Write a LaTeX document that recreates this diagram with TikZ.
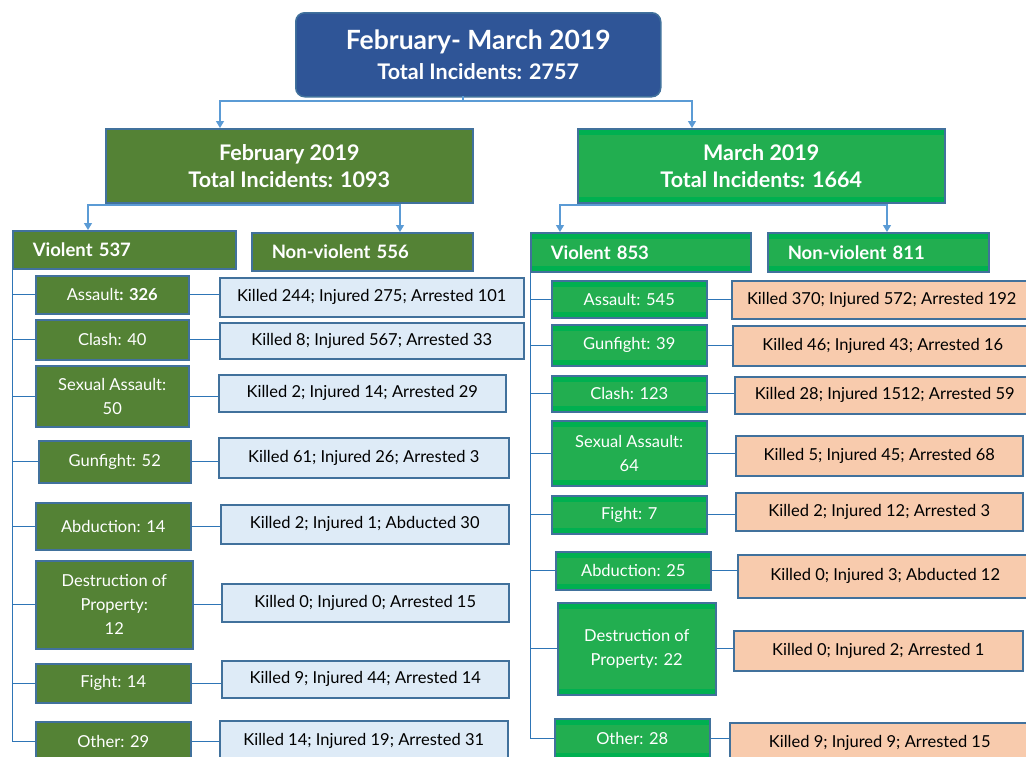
\documentclass[tikz,border=0pt]{standalone}
\usepackage{fontspec}
\setmainfont{Lato}
\usetikzlibrary{arrows.meta}

\definecolor{titleblue}{HTML}{2F5597}
\definecolor{frameblue}{HTML}{41719C}
\definecolor{linkblue}{HTML}{5B9BD5}
\definecolor{treeblue}{HTML}{2E75B6}
\definecolor{olive}{HTML}{548235}
\definecolor{brightgreen}{HTML}{00B050}
\definecolor{bandgreen}{HTML}{22AE50}
\definecolor{paleblue}{HTML}{DEEBF7}
\definecolor{peach}{HTML}{F8CBAD}

\tikzset{
  box/.style={draw=frameblue, line width=1.5pt, anchor=north west, inner sep=0pt,
    align=center, font=\fontsize{16.5}{24}\selectfont},
  monthA/.style={box, fill=olive, text=white, font=\bfseries\fontsize{21.5}{27}\selectfont},
  monthB/.style={monthA, fill=brightgreen, band},
  catA/.style={box, fill=olive, text=white, font=\bfseries\fontsize{18.5}{20}\selectfont},
  catB/.style={catA, fill=brightgreen, band},
  kindA/.style={box, fill=olive, text=white},
  kindB/.style={box, fill=brightgreen, text=white, band},
  infoA/.style={box, fill=paleblue},
  infoB/.style={box, fill=peach},
  band/.style={path picture={\fill[bandgreen]
    ([yshift=-6pt]path picture bounding box.north west) rectangle
    ([yshift=6pt]path picture bounding box.south east);}},
  link/.style={draw=linkblue, line width=1.2pt, -{Triangle[width=8pt,length=7pt]}},
  tree/.style={draw=treeblue, line width=1pt},
}

\begin{document}
\begin{tikzpicture}[x=1pt, y=-1pt]
\path[use as bounding box] (0,0) rectangle (1026,756);
\clip (0,0) rectangle (1026,756);

% totals
\node[box, fill=titleblue, text=white, rounded corners=9pt, minimum width=365, minimum height=84,
  font=\bfseries\fontsize{21.5}{30}\selectfont] (top) at (295,12)
  {{\fontsize{26.5}{30}\selectfont February- March 2019}\\Total Incidents: 2757};
\node[monthA, minimum width=367, minimum height=74] (feb) at (105,128) {February 2019\\Total Incidents: 1093};
\node[monthB, minimum width=367, minimum height=74] (mar) at (577,128) {March 2019\\Total Incidents: 1664};

\coordinate (topstub) at (463,96);
\draw[link] (topstub) -- (463,101) -| (220,128);
\draw[link] (topstub) -- (463,101) -| (692,128);

% violent / non-violent
\node[catA, minimum width=223, minimum height=38, text width=183, align=left] (fviol) at (12,230) {Violent 537};
\node[catA, minimum width=221, minimum height=38, text width=181, align=left] (fnon) at (251,232) {Non-violent 556};
\node[catB, minimum width=220, minimum height=39, text width=180, align=left] (mviol) at (530,232) {Violent 853};
\node[catB, minimum width=221, minimum height=39, text width=181, align=left] (mnon) at (767,232) {Non-violent 811};

\draw[link] (feb.south) -- (feb.south |- 0,205) -| (88,230);
\draw[link] (feb.south) -- (feb.south |- 0,205) -| (400,232);
\draw[link] (mar.south) -- (mar.south |- 0,205) -| (560,232);
\draw[link] (mar.south) -- (mar.south |- 0,205) -| (887,232);

% February, violent kinds
\node[kindA, minimum width=153, minimum height=38] (fk1) at (35,275) {Assault\textbf{: 326}};
\node[kindA, minimum width=153, minimum height=40] (fk2) at (35,319) {Clash: 40};
\node[kindA, minimum width=153, minimum height=61] (fk3) at (35,365) {Sexual Assault:\\50};
\node[kindA, minimum width=152, minimum height=42] (fk4) at (38,440) {Gunfight: 52};
\node[kindA, minimum width=155, minimum height=47] (fk5) at (35,502) {Abduction: 14};
\node[kindA, minimum width=157, minimum height=88] (fk6) at (35,560) {Destruction of\\Property:\\12};
\node[kindA, minimum width=155, minimum height=39] (fk7) at (35,663) {Fight: 14};
\node[kindA, minimum width=155, minimum height=40] (fk8) at (35,721) {Other: 29};

\node[infoA, minimum width=304, minimum height=39] (fi1) at (219,277) {Killed 244; Injured 275; Arrested 101};
\node[infoA, minimum width=304, minimum height=36] (fi2) at (219,322) {Killed 8; Injured 567; Arrested 33};
\node[infoA, minimum width=287, minimum height=37] (fi3) at (218,374) {Killed 2; Injured 14; Arrested 29};
\node[infoA, minimum width=290, minimum height=40] (fi4) at (218,437) {Killed 61; Injured 26; Arrested 3};
\node[infoA, minimum width=288, minimum height=39] (fi5) at (220,504) {Killed 2; Injured 1; Abducted 30};
\node[infoA, minimum width=287, minimum height=38] (fi6) at (221,583) {Killed 0; Injured 0; Arrested 15};
\node[infoA, minimum width=287, minimum height=37] (fi7) at (221,660) {Killed 9; Injured 44; Arrested 14};
\node[infoA, minimum width=288, minimum height=40] (fi8) at (219,720) {Killed 14; Injured 19; Arrested 31};

% March, violent kinds
\node[kindB, minimum width=155, minimum height=37] (mk1) at (551,280) {Assault: 545};
\node[kindB, minimum width=155, minimum height=41] (mk2) at (551,324) {Gunfight: 39};
\node[kindB, minimum width=155, minimum height=36] (mk3) at (551,375) {Clash: 123};
\node[kindB, minimum width=155, minimum height=65] (mk4) at (551,420) {Sexual Assault:\\64};
\node[kindB, minimum width=155, minimum height=38] (mk5) at (551,495) {Fight: 7};
\node[kindB, minimum width=155, minimum height=38] (mk6) at (555,551) {Abduction: 25};
\node[kindB, minimum width=158, minimum height=92] (mk7) at (557,602) {Destruction of\\Property: 22};
\node[kindB, minimum width=155, minimum height=40] (mk8) at (554,718) {Other: 28};

\node[infoB, minimum width=300, minimum height=38] (mi1) at (731,280) {Killed 370; Injured 572; Arrested 192};
\node[infoB, minimum width=300, minimum height=40] (mi2) at (732,325) {Killed 46; Injured 43; Arrested 16};
\node[infoB, minimum width=300, minimum height=37] (mi3) at (734,376) {Killed 28; Injured 1512; Arrested 59};
\node[infoB, minimum width=287, minimum height=40] (mi4) at (735,435) {Killed 5; Injured 45; Arrested 68};
\node[infoB, minimum width=287, minimum height=38] (mi5) at (735,492) {Killed 2; Injured 12; Arrested 3};
\node[infoB, minimum width=295, minimum height=43] (mi6) at (737,554) {Killed 0; Injured 3; Abducted 12};
\node[infoB, minimum width=289, minimum height=40] (mi7) at (733,630) {Killed 0; Injured 2; Arrested 1};
\node[infoB, minimum width=300, minimum height=40] (mi8) at (729,722) {Killed 9; Injured 9; Arrested 15};

% trunks and branches
\draw[tree] (fviol.south west) -- (fviol.south west |- fk8.west) -- (fk8.west);
\draw[tree] (mviol.south west) -- (mviol.south west |- mk8.west) -- (mk8.west);
\foreach \k in {1,...,7} {
  \draw[tree] (fviol.south west |- fk\k.west) -- (fk\k.west);
  \draw[tree] (mviol.south west |- mk\k.west) -- (mk\k.west);
}
\foreach \k in {1,...,8} {
  \draw[tree] (fk\k.east) -- (fk\k.east -| fi\k.west);
  \draw[tree] (mk\k.east) -- (mk\k.east -| mi\k.west);
}
\end{tikzpicture}
\end{document}
